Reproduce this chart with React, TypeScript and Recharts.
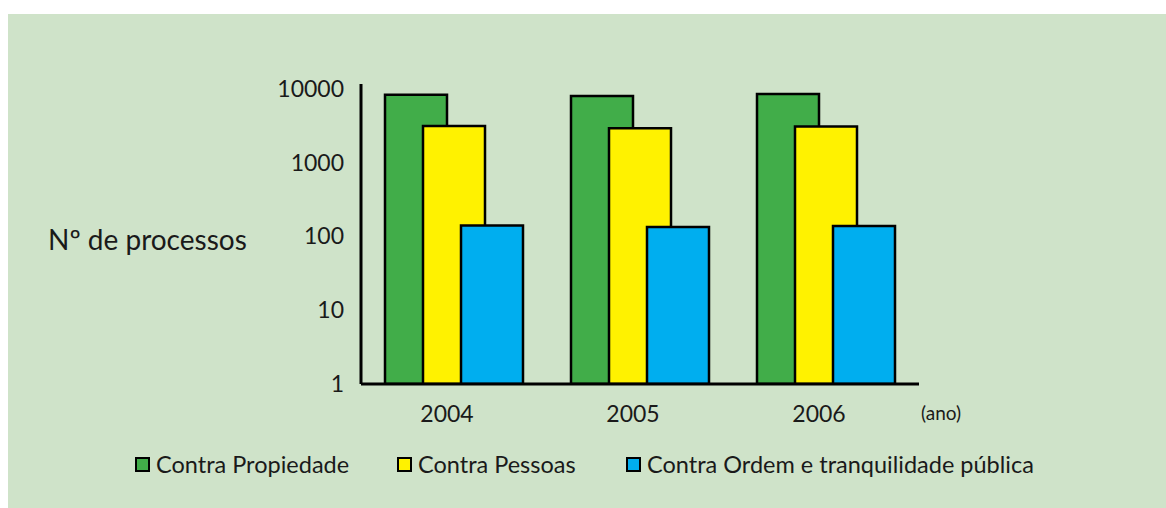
import { BarChart, Bar, XAxis, YAxis } from 'recharts'

const anos = ['2004', '2005', '2006']
const propiedade = [8200, 7900, 8400]
const pessoas = [3100, 2900, 3050]
const ordem = [140, 133, 138]
const yTicks = [1, 10, 100, 1000, 10000]

const series = [
  { key: 'propiedade', name: 'Contra Propiedade', color: '#41ad49' },
  { key: 'pessoas', name: 'Contra Pessoas', color: '#fff200' },
  { key: 'ordem', name: 'Contra Ordem e tranquilidade pública', color: '#00aeef' },
]

const data = anos.map((ano, i) => ({
  ano,
  propiedade: propiedade[i],
  pessoas: pessoas[i],
  ordem: ordem[i],
}))

const FONT = 'Lato, "Open Sans", sans-serif'
const TXT = '#1a1a1a'
const legendLeft = [127, 389, 618]

function AnoTick({ x, y, payload }: any) {
  return (
    <text x={x - 7} y={y + 38} textAnchor="middle" fontSize={23} fill={TXT} fontFamily={FONT}>
      {payload.value}
    </text>
  )
}

export default function App() {
  return (
    <div style={{ width: 1166, height: 508, position: 'relative' }}>
      <style>{'body{margin:0}'}</style>
      <div
        style={{
          position: 'absolute',
          left: 8,
          top: 14,
          width: 1158,
          height: 494,
          background: '#cfe3c9',
        }}
      >
        <BarChart
          width={1158}
          height={494}
          data={data}
          margin={{ top: 70, right: 247, bottom: 94, left: 0 }}
          barSize={62}
          barGap={-24}
        >
          <XAxis
            dataKey="ano"
            axisLine={{ stroke: '#000', strokeWidth: 3 }}
            tickLine={false}
            tickSize={0}
            tickMargin={0}
            tick={<AnoTick />}
            height={30}
          />
          <YAxis
            scale="log"
            domain={[1, 11500]}
            ticks={yTicks}
            allowDataOverflow
            width={353}
            axisLine={{ stroke: '#000', strokeWidth: 3 }}
            tickLine={false}
            tickSize={0}
            tickMargin={17}
            tick={{ fontSize: 23, fill: TXT, fontFamily: FONT }}
          />
          {series.map((s) => (
            <Bar
              key={s.key}
              dataKey={s.key}
              name={s.name}
              fill={s.color}
              stroke="#000"
              strokeWidth={2.5}
              isAnimationActive={false}
            />
          ))}
        </BarChart>

        <div
          style={{
            position: 'absolute',
            left: 40,
            top: 208,
            fontFamily: FONT,
            fontSize: 28,
            color: TXT,
            whiteSpace: 'nowrap',
          }}
        >
          Nº de processos
        </div>
        <div
          style={{
            position: 'absolute',
            left: 913,
            top: 387,
            fontFamily: FONT,
            fontSize: 19,
            color: TXT,
          }}
        >
          (ano)
        </div>

        {series.map((s, i) => (
          <div
            key={s.key}
            style={{
              position: 'absolute',
              left: legendLeft[i],
              top: 435,
              height: 30,
              display: 'flex',
              alignItems: 'center',
              fontFamily: FONT,
              fontSize: 23.5,
              color: TXT,
              whiteSpace: 'nowrap',
            }}
          >
            <span
              style={{
                display: 'inline-block',
                width: 11,
                height: 11,
                background: s.color,
                border: '2.5px solid #000',
                marginRight: 6,
              }}
            />
            <span>{s.name}</span>
          </div>
        ))}
      </div>
    </div>
  )
}
